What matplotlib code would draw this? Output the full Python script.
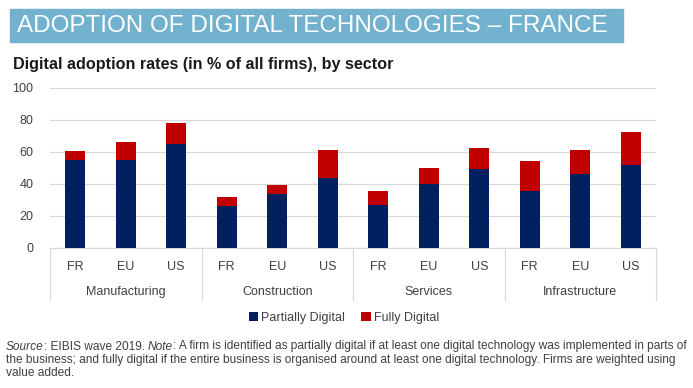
import matplotlib
matplotlib.use("Agg")
import matplotlib.pyplot as plt
import numpy as np
from matplotlib.patches import Rectangle

sectors = ["Manufacturing", "Construction", "Services", "Infrastructure"]
regions = ["FR", "EU", "US"]
partially = [55, 55, 65, 26.5, 34, 44, 26.7, 40.2, 49.2, 35.8, 46.5, 51.7]
fully = [5.6, 11, 13, 5.2, 5.6, 17.2, 8.7, 9.6, 13.1, 18.6, 14.5, 20.6]

navy = "#002060"
red = "#C00000"
band = "#73B2CE"
grey = "#404040"

plt.rcParams["font.family"] = ["Liberation Sans", "DejaVu Sans"]

W, H = 693, 388
fig = plt.figure(figsize=(W / 100, H / 100), dpi=100)
renderer = fig.canvas.get_renderer()


def fit_text(xp, yp, s, target_w, **kw):
    t = fig.text(xp / W, 1 - yp / H, s, fontsize=10, va="center", ha="left", **kw)
    w = t.get_window_extent(renderer).width
    t.set_fontsize(10 * target_w / w)
    return t


def place_pieces(xp, yp, pieces, fs):
    xpos = xp
    for txt, style in pieces:
        t = fig.text(xpos / W, 1 - yp / H, txt, fontsize=fs, style=style,
                     color=grey, va="center", ha="left")
        xpos += t.get_window_extent(renderer).width
    return xpos - xp


# title band
fig.patches.append(Rectangle((10 / W, 1 - 42 / H), 613 / W, 33 / H,
                             transform=fig.transFigure, color=band, zorder=0))
fit_text(17, 26.5, "ADOPTION OF DIGITAL TECHNOLOGIES \u2013 FRANCE", 590, color="white")
fit_text(13, 65, "Digital adoption rates (in % of all firms), by sector", 381,
         fontweight="bold", color="#1a1a1a")

ax = fig.add_axes([50 / W, 1 - 248 / H, 606 / W, 160 / H])
x = np.arange(len(partially))
ax.bar(x, partially, width=0.4, color=navy, label="Partially Digital", zorder=3)
ax.bar(x, fully, width=0.4, bottom=partially, color=red, label="Fully Digital", zorder=3)
ax.set_xlim(-0.5, len(partially) - 0.5)
ax.set_ylim(0, 100)
ax.set_yticks(range(0, 101, 20))
ax.yaxis.grid(True, color="#D9D9D9", linewidth=0.9, zorder=0)
for s in ["top", "right", "left"]:
    ax.spines[s].set_visible(False)
ax.spines["bottom"].set_color("#D9D9D9")
ax.tick_params(axis="y", length=0, labelsize=9, colors=grey, pad=12)
ax.tick_params(axis="x", length=0, labelsize=9, colors=grey, pad=9)
ax.set_xticks(x)
ax.set_xticklabels(regions * len(sectors))

# group separators and labels below the axis
for i in range(len(sectors) + 1):
    xs = i * 3 - 0.5
    ax.plot([xs, xs], [0, -32.5], color="#D9D9D9", linewidth=0.9, clip_on=False)
for i, s in enumerate(sectors):
    ax.text(i * 3 + 1, -27.5, s, ha="center", va="center", fontsize=9, color=grey)

fig.legend(loc="center", bbox_to_anchor=(344 / W, 1 - 318 / H), ncol=2, frameon=False,
           fontsize=9, handlelength=0.75, handleheight=0.75, columnspacing=1.3,
           handletextpad=0.25, labelcolor=grey)

# footnote with italic pieces, scaled to the reference line width
lines = [
    [("Source", "italic"), (": EIBIS wave 2019. ", "normal"), ("Note", "italic"),
     (": A firm is identified as partially digital if at least one digital technology was implemented in parts of", "normal")],
    [("the business; and fully digital if the entire business is organised around at least one digital technology. Firms are weighted using", "normal")],
    [("value added.", "normal")],
]
probe = fig.text(0, 0, "".join(p[0] for p in lines[0]), fontsize=10)
fs = 10 * 683 / probe.get_window_extent(renderer).width
probe.remove()
for pieces, yl in zip(lines, [346.5, 359.5, 372.5]):
    place_pieces(6, yl, pieces, fs)

fig.savefig("out.png", dpi=100)
